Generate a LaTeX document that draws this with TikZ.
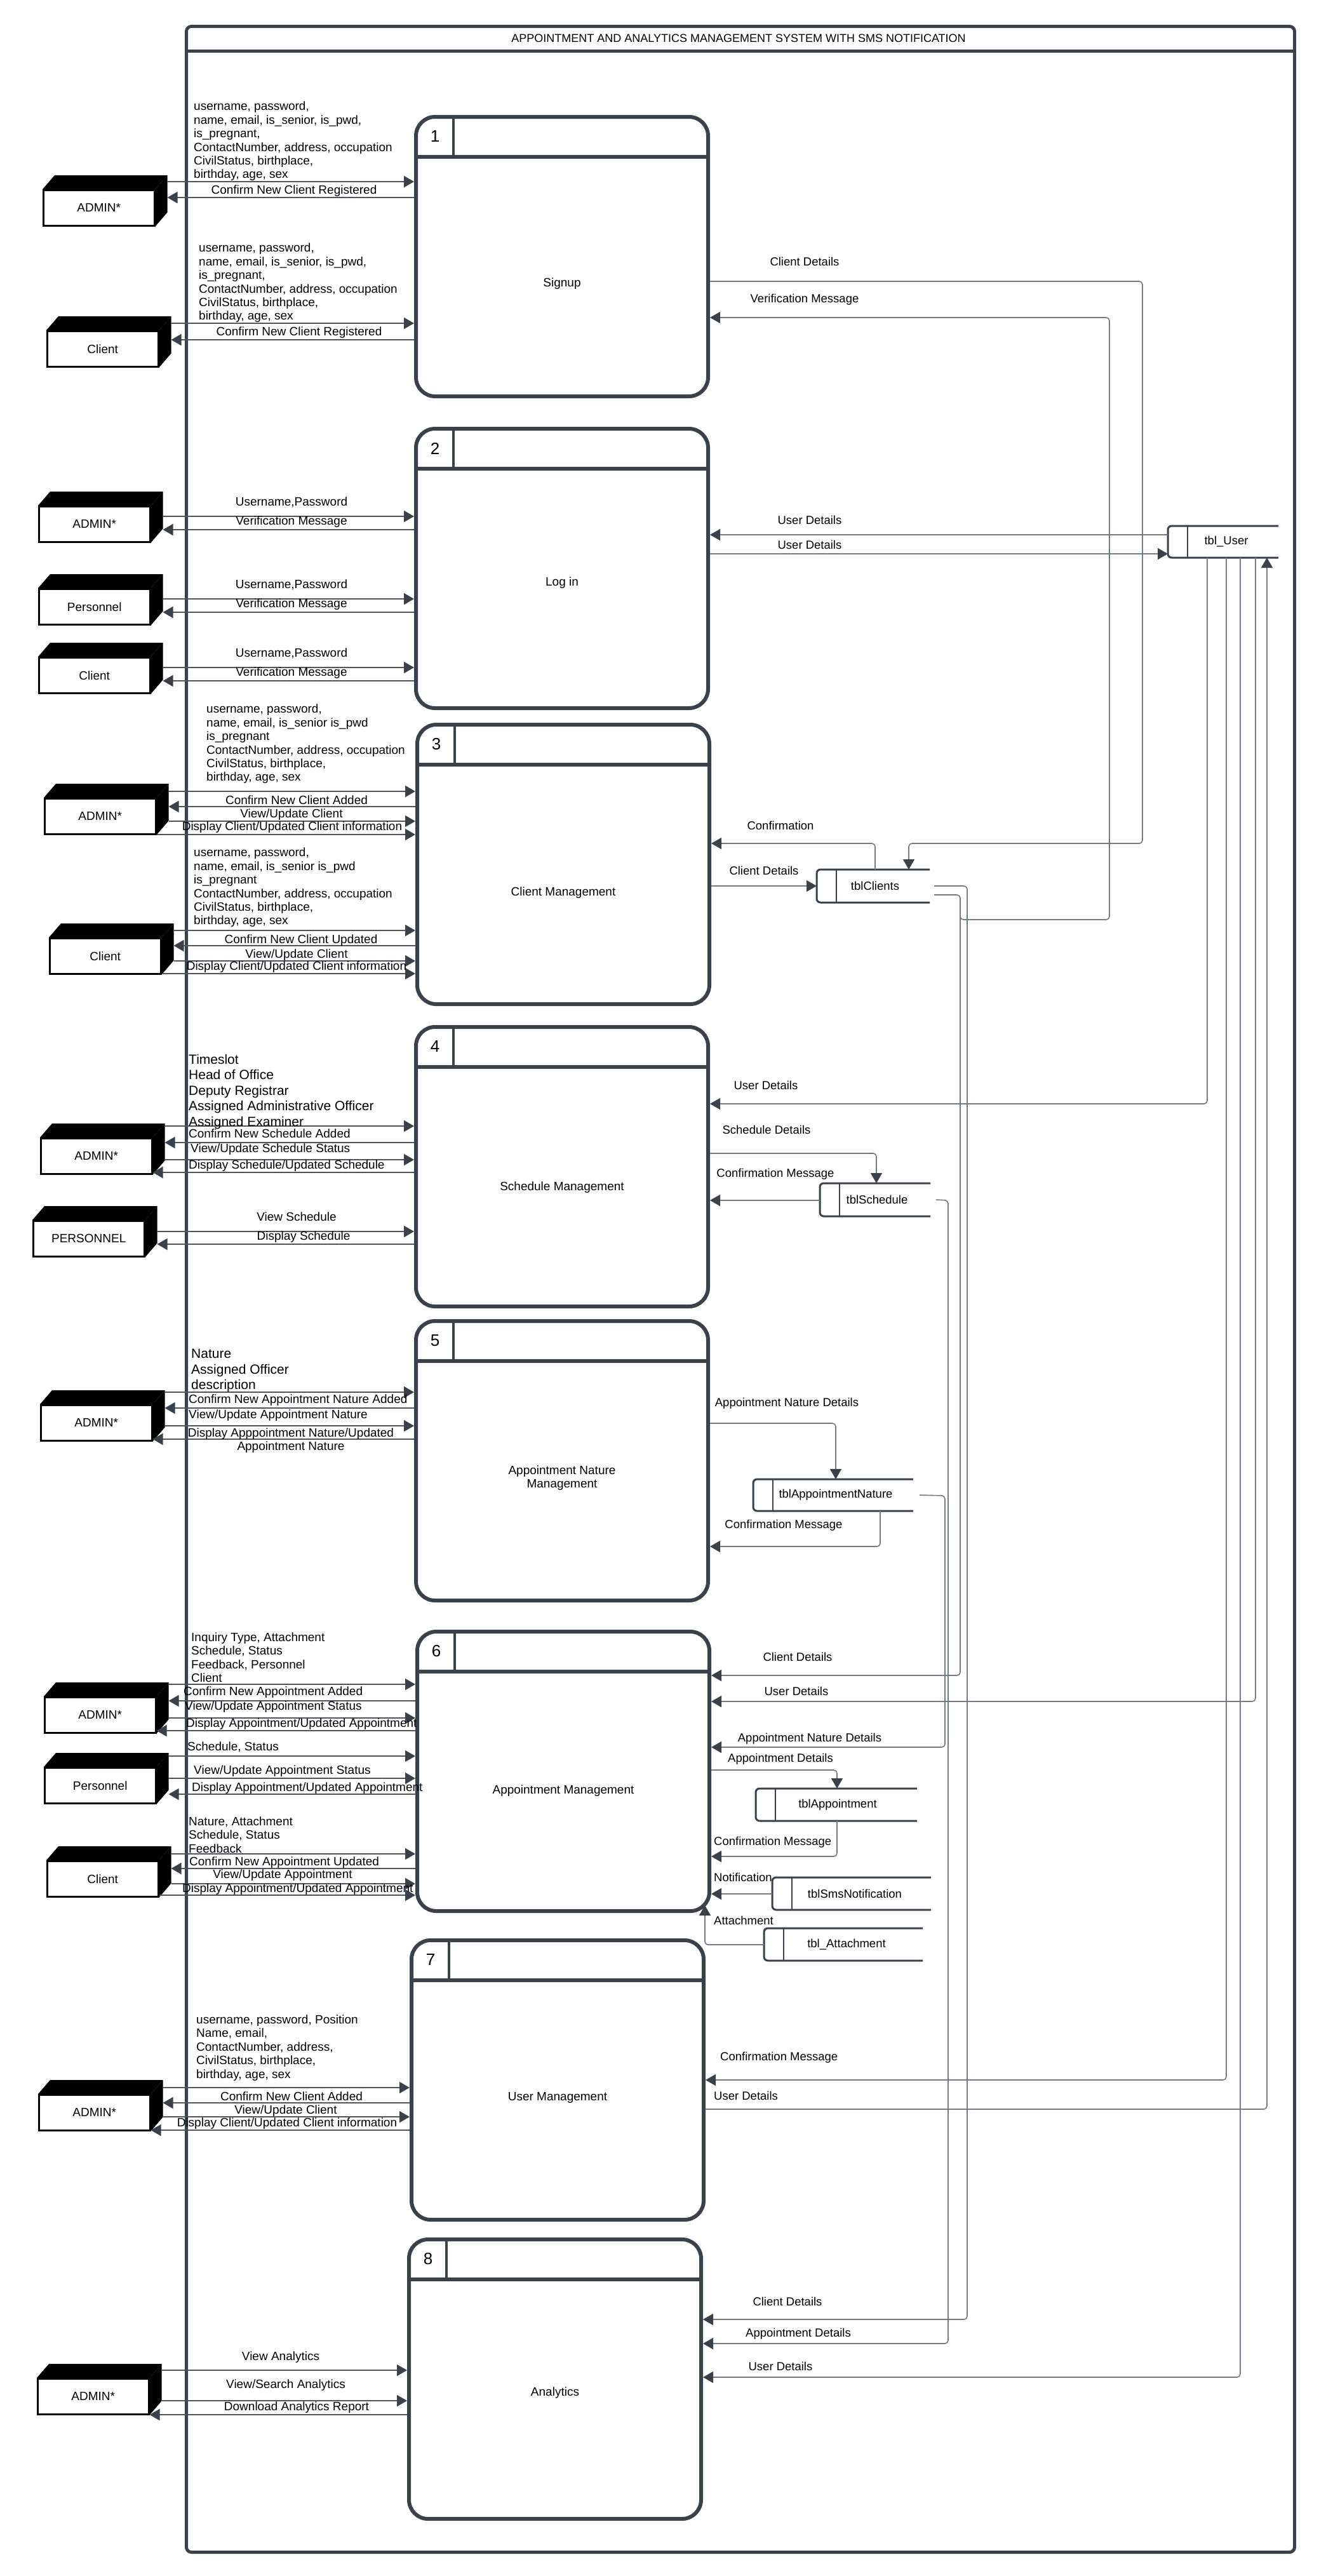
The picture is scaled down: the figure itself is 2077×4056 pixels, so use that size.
\documentclass[tikz,border=0pt]{standalone}
\usepackage{fontspec}
\setmainfont{Liberation Sans}
\usetikzlibrary{arrows.meta,calc}
\definecolor{boxc}{HTML}{3B4049}
\definecolor{linec}{HTML}{4F545C}
\definecolor{rlinec}{HTML}{757A82}
\definecolor{arrc}{HTML}{3B4049}
\newcommand\fsz[2]{\fontsize{#1}{#2}\selectfont}
\newcounter{lc}
\newcommand\mylab[3][]{\stepcounter{lc}\node[lbl,#1] (L\arabic{lc}) at (#2) {#3};}
\newcommand\mkproc[6]{%
  \node[procbox] (#1) at (#2,#3) {};
  \draw[hdr] ($(#1.north west)+(0,66)$) -- ($(#1.north east)+(0,66)$);
  \draw[dvd] ($(#1.north west)+(62,0)$) -- ($(#1.north west)+(62,66)$);
  \node[numf] (#1n) at ($(#1.north west)+(33,34)$) {#4};
  \node[lbl,align=center] (#1t) at (#1.center |- 0,#6) {#5};
}
\newcommand\mkent[4]{%
  \node[entb] (#1) at (#2,#3) {#4};
  \fill[black] (#1.north west) -- ++(19,-22) -- ($(#1.north east)+(19,-22)$) -- (#1.north east) -- cycle;
  \fill[black] (#1.north east) -- ++(19,-22) -- ($(#1.south east)+(19,-22)$) -- (#1.south east) -- cycle;
  \coordinate (#1b) at ($(#1.east)+(19,0)$);
}
\newcommand\mkstore[7]{%
  \node[anchor=north west, minimum width=#4pt, minimum height=#5pt, inner sep=0pt, outer sep=0pt] (#1) at (#2,#3) {};
  \draw[storel] (#1.north east) -- (#1.north west) -- (#1.south west) -- (#1.south east);
  \draw[stored] ($(#1.north west)+(31,0)$) -- ($(#1.south west)+(31,0)$);
  \node[rl] (#1t) at (#1.center -| #6,0) {#7};
}
\begin{document}
\begin{tikzpicture}[x=1pt,y=-1pt,
  lbl/.style={font=\fsz{19}{21}, inner sep=0pt, text=black},
  rl/.style={lbl, font=\fsz{18.5}{21}},
  numf/.style={font=\fsz{26}{28}, inner sep=0pt},
  procbox/.style={draw=boxc, line width=6pt, rounded corners=30pt, minimum width=460pt, minimum height=440pt, anchor=north west, inner sep=0pt},
  hdr/.style={draw=boxc, line width=6pt},
  dvd/.style={draw=boxc, line width=4pt},
  entb/.style={draw=black, line width=2.5pt, fill=white, minimum width=175pt, minimum height=56pt, anchor=north west, inner sep=0pt, font=\fsz{19}{21}},
  storel/.style={draw=boxc, line width=3pt, rounded corners=6pt},
  stored/.style={draw=boxc, line width=1.8pt},
  lflow/.style={draw=linec, line width=1.8pt, -{Triangle[length=16pt,width=18pt,color=arrc]}},
  rflow/.style={draw=rlinec, line width=1.6pt, rounded corners=5pt, -{Triangle[length=16pt,width=18pt,color=arrc]}}
]
\useasboundingbox (0,0) rectangle (2077,4056);
% frame
\node[draw=boxc, line width=5pt, rounded corners=8pt, minimum width=1745pt, minimum height=3977pt, anchor=north west, inner sep=0pt] (frame) at (291,39) {};
\draw[boxc, line width=5pt] ($(frame.north west)+(0,41)$) -- ($(frame.north east)+(0,41)$);
\node[font=\fsz{18}{20}, inner sep=0pt] (title) at (1163,60) {APPOINTMENT AND ANALYTICS MANAGEMENT SYSTEM WITH SMS NOTIFICATION};

% processes
\mkproc{p1}{652}{181}{1}{Signup}{447}
\mkproc{p2}{652}{672}{2}{Log in}{918}
\mkproc{p3}{654}{1138}{3}{Client Management}{1406}
\mkproc{p4}{652}{1614}{4}{Schedule Management}{1870}
\mkproc{p5}{652}{2077}{5}{Appointment Nature\\Management}{2327}
\mkproc{p6}{654}{2566}{6}{Appointment Management}{2820}
\mkproc{p7}{645}{3052}{7}{User Management}{3303}
\mkproc{p8}{641}{3523}{8}{Analytics}{3768}

% entities
\mkent{e1}{67}{298}{ADMIN*}
\mkent{e2}{73}{520}{Client}
\mkent{e3}{60}{796}{ADMIN*}
\mkent{e4}{60}{926}{Personnel}
\mkent{e5}{60}{1034}{Client}
\mkent{e6}{69}{1256}{ADMIN*}
\mkent{e7}{77}{1476}{Client}
\mkent{e8}{63}{1791}{ADMIN*}
\mkent{e9}{51}{1921}{PERSONNEL}
\mkent{e10}{63}{2211}{ADMIN*}
\mkent{e11}{69}{2671}{ADMIN*}
\mkent{e12}{69}{2782}{Personnel}
\mkent{e13}{73}{2929}{Client}
\mkent{e14}{60}{3297}{ADMIN*}
\mkent{e15}{58}{3744}{ADMIN*}

% stores
\mkstore{sU}{1839}{828}{174}{50}{1931}{tbl\_User}
\mkstore{sCl}{1286}{1369}{178}{52}{1378}{tblClients}
\mkstore{sSch}{1291}{1863}{174}{52}{1381}{tblSchedule}
\mkstore{sAN}{1186}{2329}{252}{50}{1316}{tblAppointmentNature}
\mkstore{sAp}{1190}{2816}{254}{51}{1319}{tblAppointment}
\mkstore{sSms}{1216}{2956}{250}{51}{1346}{tblSmsNotification}
\mkstore{sAt}{1203}{3036}{250}{51}{1333}{tbl\_Attachment}

% ---------- left flows ----------
% P1
\draw[lflow] (e1b |- 0,286) -- (p1.west |- 0,286);
\draw[lflow] (p1.west |- 0,311) -- (e1b |- 0,311);
\draw[lflow] (e2b |- 0,509) -- (p1.west |- 0,509);
\draw[lflow] (p1.west |- 0,535) -- (e2b |- 0,535);
% P2
\draw[lflow] (e3b |- 0,813) -- (p2.west |- 0,813);
\draw[lflow] (p2.west |- 0,834) -- (e3b |- 0,834);
\draw[lflow] (e4b |- 0,943) -- (p2.west |- 0,943);
\draw[lflow] (p2.west |- 0,964) -- (e4b |- 0,964);
\draw[lflow] (e5b |- 0,1051) -- (p2.west |- 0,1051);
\draw[lflow] (p2.west |- 0,1072) -- (e5b |- 0,1072);
% P3
\draw[lflow] (e6b |- 0,1246) -- (p3.west |- 0,1246);
\draw[lflow] (p3.west |- 0,1270) -- (e6b |- 0,1270);
\draw[lflow] (e6b |- 0,1293) -- (p3.west |- 0,1293);
\draw[lflow] (e6.east |- 0,1314) -- (p3.west |- 0,1314);
\draw[lflow] (e7b |- 0,1465) -- (p3.west |- 0,1465);
\draw[lflow] (p3.west |- 0,1489) -- (e7b |- 0,1489);
\draw[lflow] (e7b |- 0,1513) -- (p3.west |- 0,1513);
\draw[lflow] (e7.east |- 0,1533) -- (p3.west |- 0,1533);
% P4
\draw[lflow] (e8b |- 0,1773) -- (p4.west |- 0,1773);
\draw[lflow] (p4.west |- 0,1799) -- (e8b |- 0,1799);
\draw[lflow] (e8b |- 0,1826) -- (p4.west |- 0,1826);
\draw[lflow] (p4.west |- 0,1846) -- (e8.east |- 0,1846);
\draw[lflow] (e9b |- 0,1939) -- (p4.west |- 0,1939);
\draw[lflow] (p4.west |- 0,1959) -- (e9b |- 0,1959);
% P5
\draw[lflow] (e10b |- 0,2192) -- (p5.west |- 0,2192);
\draw[lflow] (p5.west |- 0,2217) -- (e10b |- 0,2217);
\draw[lflow] (e10b |- 0,2245) -- (p5.west |- 0,2245);
\draw[lflow] (p5.west |- 0,2266) -- (e10.east |- 0,2266);
% P6
\draw[lflow] (e11b |- 0,2652) -- (p6.west |- 0,2652);
\draw[lflow] (p6.west |- 0,2678) -- (e11b |- 0,2678);
\draw[lflow] (e11b |- 0,2705) -- (p6.west |- 0,2705);
\draw[lflow] (p6.west |- 0,2725) -- (e11.east |- 0,2725);
\draw[lflow] (e12b |- 0,2765) -- (p6.west |- 0,2765);
\draw[lflow] (e12b |- 0,2800) -- (p6.west |- 0,2800);
\draw[lflow] (p6.west |- 0,2825) -- (e12b |- 0,2825);
\draw[lflow] (e13b |- 0,2919) -- (p6.west |- 0,2919);
\draw[lflow] (p6.west |- 0,2942) -- (e13b |- 0,2942);
\draw[lflow] (e13b |- 0,2966) -- (p6.west |- 0,2966);
\draw[lflow] (e13.east |- 0,2984) -- (p6.west |- 0,2984);
% P7
\draw[lflow] (e14b |- 0,3287) -- (p7.west |- 0,3287);
\draw[lflow] (p7.west |- 0,3311) -- (e14b |- 0,3311);
\draw[lflow] (e14b |- 0,3333) -- (p7.west |- 0,3333);
\draw[lflow] (p7.west |- 0,3354) -- (e14.east |- 0,3354);
% P8
\draw[lflow] (e15b |- 0,3732) -- (p8.west |- 0,3732);
\draw[lflow] (e15b |- 0,3780) -- (p8.west |- 0,3780);
\draw[lflow] (p8.west |- 0,3802) -- (e15.east |- 0,3802);

% ---------- left labels ----------
\mylab[anchor=north west,align=left,font=\fsz{19}{21.4}]{305,160}{username, password,\\name, email, is\_senior, is\_pwd,\\is\_pregnant,\\ContactNumber, address, occupation\\CivilStatus, birthplace,\\birthday, age, sex}
\mylab{463,301}{Confirm New Client Registered}
\mylab[anchor=north west,align=left,font=\fsz{19}{21.4}]{313,383}{username, password,\\name, email, is\_senior, is\_pwd,\\is\_pregnant,\\ContactNumber, address, occupation\\CivilStatus, birthplace,\\birthday, age, sex}
\mylab{471,524}{Confirm New Client Registered}

\mylab{459,791}{Username,Password}
\mylab{459,822}{Verification Message}
\mylab{459,921}{Username,Password}
\mylab{459,952}{Verification Message}
\mylab{459,1029}{Username,Password}
\mylab{459,1060}{Verification Message}

\mylab[anchor=north west,align=left,font=\fsz{19}{21.4}]{325,1109}{username, password,\\name, email, is\_senior is\_pwd\\is\_pregnant\\ContactNumber, address, occupation\\CivilStatus, birthplace,\\birthday, age, sex}
\mylab{467,1260}{Confirm New Client Added}
\mylab{459,1283}{View/Update Client}
\mylab{460,1303}{Display Client/Updated Client information}
\mylab[anchor=north west,align=left,font=\fsz{19}{21.4}]{305,1335}{username, password,\\name, email, is\_senior is\_pwd\\is\_pregnant\\ContactNumber, address, occupation\\CivilStatus, birthplace,\\birthday, age, sex}
\mylab{474,1481}{Confirm New Client Updated}
\mylab{467,1504}{View/Update Client}
\mylab{467,1523}{Display Client/Updated Client information}

\mylab[anchor=north west,align=left,font=\fsz{21}{24.5}]{297,1660}{Timeslot\\Head of Office\\Deputy Registrar\\Assigned Administrative Officer\\Assigned Examiner}
\mylab[anchor=west]{297,1785}{Confirm New Schedule Added}
\mylab[anchor=west]{300,1810}{View/Update Schedule Status}
\mylab[anchor=west]{297,1836}{Display Schedule/Updated Schedule}
\mylab{467,1916}{View Schedule}
\mylab{478,1948}{Display Schedule}

\mylab[anchor=north west,align=left,font=\fsz{21}{24.5}]{301,2124}{Nature\\Assigned Officer\\description}
\mylab[anchor=west]{297,2205}{Confirm New Appointment Nature Added}
\mylab[anchor=west]{297,2229}{View/Update Appointment Nature}
\mylab[align=center,font=\fsz{19}{21}]{458,2268}{Display Apppointment Nature/Updated\\Appointment Nature}

\mylab[anchor=north west,align=left,font=\fsz{19}{21.5}]{301,2570}{Inquiry Type, Attachment\\Schedule, Status\\Feedback, Personnel\\Client}
\mylab[anchor=west]{289,2665}{Confirm New Appointment Added}
\mylab[anchor=west]{291,2688}{View/Update Appointment Status}
\mylab[anchor=west]{293,2715}{Display Appointment/Updated Appointment}
\mylab[anchor=west]{295,2751}{Schedule, Status}
\mylab[anchor=west]{305,2789}{View/Update Appointment Status}
\mylab[anchor=west]{302,2816}{Display Appointment/Updated Appointment}
\mylab[anchor=north west,align=left,font=\fsz{19}{21.5}]{297,2860}{Nature, Attachment\\Schedule, Status\\Feedback}
\mylab[anchor=west]{298,2933}{Confirm New Appointment Updated}
\mylab{445,2953}{View/Update Appointment}
\mylab[anchor=west]{287,2975}{Display Appointment/Updated Appointment}

\mylab[anchor=north west,align=left,font=\fsz{19}{21.5}]{309,3172}{username, password, Position\\Name, email,\\ContactNumber, address,\\CivilStatus, birthplace,\\birthday, age, sex}
\mylab{459,3301}{Confirm New Client Added}
\mylab{450,3324}{View/Update Client}
\mylab{452,3344}{Display Client/Updated Client information}

\mylab{442,3712}{View Analytics}
\mylab{450,3756}{View/Search Analytics}
\mylab{467,3791}{Download Analytics Report}

% ---------- right flows ----------
\draw[rflow] (p1.east |- 0,443) -- (1799,443) -- (1799,1328) -- (1431,1328) -- (sCl.north -| 1431,0);
\draw[rflow] ($(sCl.east)+(7,14)$) -- (1512,1409) -- (1512,1448) -- (1747,1448) -- (1747,500) -- (p1.east |- 0,500);
\draw[rflow] (1512,1420) -- (1512,2638) -- (p6.east |- 0,2638);
\draw[rflow] ($(sCl.east)+(7,0)$) -- (1523,1395) -- (1523,3652) -- (p8.east |- 0,3652);

\draw[rflow] (sU.west |- 0,842) -- (p2.east |- 0,842);
\draw[rflow] (p2.east |- 0,872) -- (sU.west |- 0,872);
\draw[rflow] (sU.south -| 1901,0) -- (1901,1738) -- (p4.east |- 0,1738);
\draw[rflow] (sU.south -| 1931,0) -- (1931,3275) -- (p7.east |- 0,3275);
\draw[rflow] (sU.south -| 1953,0) -- (1953,3743) -- (p8.east |- 0,3743);
\draw[rflow] (sU.south -| 1977,0) -- (1977,2679) -- (p6.east |- 0,2679);
\draw[rflow] (p7.east |- 0,3321) -- (1995,3321) -- (sU.south -| 1995,0);

\draw[rflow] (sCl.north -| 1378,0) -- (1378,1328) -- (p3.east |- 0,1328);
\draw[rflow] (p3.east |- 0,1395) -- (sCl.west |- 0,1395);

\draw[rflow] (p4.east |- 0,1816) -- (1380,1816) -- (sSch.north -| 1380,0);
\draw[rflow] (sSch.west |- 0,1890) -- (p4.east |- 0,1890);
\draw[rflow] ($(sSch.east)+(9,0)$) -- (1493,1890) -- (1493,3690) -- (p8.east |- 0,3690);

\draw[rflow] (p5.east |- 0,2241) -- (1316,2241) -- (sAN.north -| 1316,0);
\draw[rflow] (sAN.south -| 1386,0) -- (1386,2435) -- (p5.east |- 0,2435);
\draw[rflow] ($(sAN.east)+(10,0)$) -- (1488,2355) -- (1488,2751) -- (p6.east |- 0,2751);

\draw[rflow] (p6.east |- 0,2787) -- (1318,2787) -- (sAp.north -| 1318,0);
\draw[rflow] (sAp.south -| 1318,0) -- (1318,2923) -- (p6.east |- 0,2923);
\draw[rflow] (sSms.west |- 0,2982) -- (p6.east |- 0,2982);
\draw[rflow] (sAt.west |- 0,3062) -- (1110,3062) -- (1110,3000);

% ---------- right labels ----------
\mylab[rl]{1267,412}{Client Details}
\mylab[rl]{1267,472}{Verification Message}
\mylab[rl]{1275,819}{User Details}
\mylab[rl]{1275,858}{User Details}
\mylab[rl]{1229,1300}{Confirmation}
\mylab[rl]{1203,1371}{Client Details}
\mylab[rl]{1206,1709}{User Details}
\mylab[rl]{1207,1779}{Schedule Details}
\mylab[rl]{1221,1849}{Confirmation Message}
\mylab[rl]{1239,2210}{Appointment Nature Details}
\mylab[rl]{1234,2402}{Confirmation Message}
\mylab[rl]{1256,2609}{Client Details}
\mylab[rl]{1254,2663}{User Details}
\mylab[rl]{1275,2738}{Appointment Nature Details}
\mylab[rl]{1229,2770}{Appointment Details}
\mylab[rl,anchor=west]{1124,2901}{Confirmation Message}
\mylab[rl,anchor=west]{1124,2956}{Notification}
\mylab[rl,anchor=west]{1124,3024}{Attachment}
\mylab[rl,anchor=west]{1134,3240}{Confirmation Message}
\mylab[rl,anchor=west]{1124,3300}{User Details}
\mylab[rl]{1240,3624}{Client Details}
\mylab[rl]{1257,3675}{Appointment Details}
\mylab[rl]{1229,3726}{User Details}
\end{tikzpicture}
\end{document}
